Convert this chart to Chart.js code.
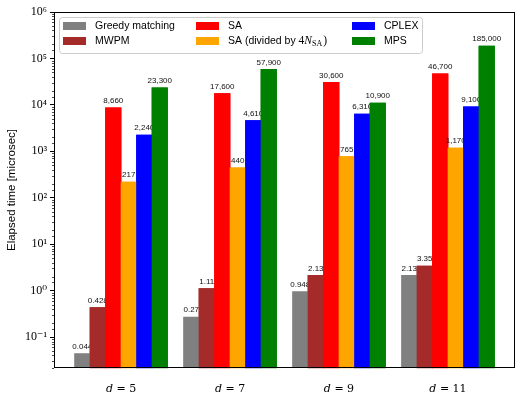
<!DOCTYPE html>
<html>
<head>
<meta charset="utf-8">
<script src="https://cdn.jsdelivr.net/npm/chart.js@4.4.1/dist/chart.umd.min.js"></script>
<style>
  html, body { margin: 0; padding: 0; background: #fff; }
</style>
</head>
<body>
<canvas id="timeChart" width="523" height="395"></canvas>
<script>
// data
const groups = ["𝑑 = 5", "𝑑 = 7", "𝑑 = 9", "𝑑 = 11"];
const greedy = [0.044, 0.27, 0.948, 2.13];
const mwpm = [0.428, 1.11, 2.13, 3.35];
const sa = [8660, 17600, 30600, 46700];
const saDivided = [217, 440, 765, 1170];
const cplex = [2240, 4610, 6310, 9100];
const mps = [23300, 57900, 10900, 185000];

const seriesNames = ["Greedy matching", "MWPM", "SA", "SA (divided by 4N_SA)", "CPLEX", "MPS"];
const seriesValues = [greedy, mwpm, sa, saDivided, cplex, mps];
const seriesColors = ["#808080", "#a52a2a", "#ff0000", "#ffa500", "#0000ff", "#008000"];

const sup = { "-": "⁻", "0": "⁰", "1": "¹", "2": "²", "3": "³", "4": "⁴", "5": "⁵", "6": "⁶", "7": "⁷", "8": "⁸", "9": "⁹" };

function isDecade(v) {
  const l = Math.log10(v);
  return Math.abs(l - Math.round(l)) < 1e-9;
}

function fmtValue(v) {
  return v >= 1000 ? v.toLocaleString("en-US") : String(v);
}

// bar value labels, frame, minor ticks and legend
const extras = {
  id: "extras",
  afterDatasetsDraw(chart) {
    const c = chart.ctx;
    const n = chart.data.datasets.length;
    // labels of one series go under the bars of the later series
    for (let di = 0; di < n; di++) {
      if (di > 0) {
        chart.getDatasetMeta(di).data.forEach(bar => bar.draw(c, chart.chartArea));
      }
      c.save();
      c.font = "8px 'Liberation Sans'";
      c.fillStyle = "#111";
      c.textAlign = "center";
      c.textBaseline = "bottom";
      chart.getDatasetMeta(di).data.forEach((bar, i) => {
        c.fillText(fmtValue(seriesValues[di][i]), bar.x, bar.y - 3);
      });
      c.restore();
    }
  },
  afterDraw(chart) {
    const c = chart.ctx;
    const a = chart.chartArea;
    const y = chart.scales.y;
    c.save();
    c.strokeStyle = "#000";
    c.lineWidth = 1;
    c.strokeRect(a.left + 0.5, a.top + 0.5, a.right - a.left - 1, a.bottom - a.top - 1);
    // minor ticks
    c.beginPath();
    y.ticks.forEach(t => {
      if (isDecade(t.value)) return;
      const py = Math.round(y.getPixelForValue(t.value)) + 0.5;
      c.moveTo(a.left - 2, py);
      c.lineTo(a.left, py);
    });
    c.lineWidth = 0.7;
    c.stroke();

    // legend, three columns of two
    const bx = a.left + 5, by = a.top + 5, bw = 363, bh = 36;
    c.fillStyle = "rgba(255,255,255,0.85)";
    c.strokeStyle = "#cccccc";
    c.lineWidth = 1;
    c.beginPath();
    c.roundRect(bx + 0.5, by + 0.5, bw, bh, 3);
    c.fill();
    c.stroke();
    const colX = [4, 137, 293];
    const rowY = [9, 24];
    c.textBaseline = "middle";
    c.textAlign = "left";
    for (let k = 0; k < 6; k++) {
      const col = Math.floor(k / 2), row = k % 2;
      const sx = bx + colX[col], sy = by + rowY[row];
      c.fillStyle = seriesColors[k];
      c.fillRect(sx, sy - 4, 23, 8);
      c.fillStyle = "#000";
      let tx = sx + 32;
      if (k === 3) {
        c.font = "10.5px 'Liberation Sans'";
        c.fillText("SA (divided by ", tx, sy);
        tx += c.measureText("SA (divided by ").width;
        c.font = "11.5px 'Liberation Serif'";
        c.fillText("4", tx, sy);
        tx += c.measureText("4").width;
        c.font = "italic 11.5px 'Liberation Serif'";
        c.fillText("N", tx, sy);
        tx += c.measureText("N").width;
        c.font = "8px 'Liberation Serif'";
        c.fillText("SA", tx, sy + 3);
        tx += c.measureText("SA").width + 1;
        c.font = "11.5px 'Liberation Serif'";
        c.fillText(")", tx, sy);
      } else {
        c.font = "10.5px 'Liberation Sans'";
        c.fillText(seriesNames[k], tx, sy);
      }
    }
    c.restore();
  }
};

const datasets = seriesNames.map((name, k) => ({
  label: name,
  data: seriesValues[k].map((v, i) => ({ x: i, y: v })),
  backgroundColor: seriesColors[k],
  borderWidth: 0,
  barThickness: 15.5
}));

new Chart(document.getElementById("timeChart"), {
  type: "bar",
  data: { datasets: datasets },
  options: {
    responsive: false,
    animation: false,
    devicePixelRatio: 1,
    layout: { padding: { top: 12, right: 8, left: 0, bottom: 0 } },
    plugins: {
      legend: { display: false },
      tooltip: { enabled: false }
    },
    scales: {
      x: {
        type: "linear",
        min: -0.615,
        max: 3.615,
        offset: false,
        grid: { display: false, offset: false },
        border: { display: false },
        afterBuildTicks: (scale) => {
          scale.ticks = groups.map((g, i) => ({ value: i }));
        },
        afterFit: (scale) => { scale.height = 27; },
        ticks: {
          autoSkip: false,
          maxRotation: 0,
          padding: 7,
          color: "#000",
          font: { family: "'DejaVu Serif'", size: 11 },
          callback: (v, i) => groups[i]
        }
      },
      y: {
        type: "logarithmic",
        min: 0.0215,
        max: 1e6,
        grid: {
          drawOnChartArea: false,
          tickLength: 4,
          tickColor: (ctx) => (ctx.tick && isDecade(ctx.tick.value)) ? "#000" : "rgba(0,0,0,0)"
        },
        border: { display: false },
        afterFit: (scale) => { scale.width = 54; },
        title: {
          display: true,
          text: "Elapsed time [microsec]",
          color: "#000",
          font: { family: "'Liberation Sans'", size: 11.5 },
          padding: { top: 5, bottom: 0 }
        },
        ticks: {
          autoSkip: false,
          padding: 3,
          color: "#000",
          font: { family: "'Liberation Serif', 'DejaVu Serif'", size: 12 },
          callback: (v) => {
            if (!isDecade(v)) return "";
            const e = Math.round(Math.log10(v));
            return "10" + String(e).split("").map(ch => sup[ch]).join("");
          }
        }
      }
    }
  },
  plugins: [extras]
});
</script>
</body>
</html>
